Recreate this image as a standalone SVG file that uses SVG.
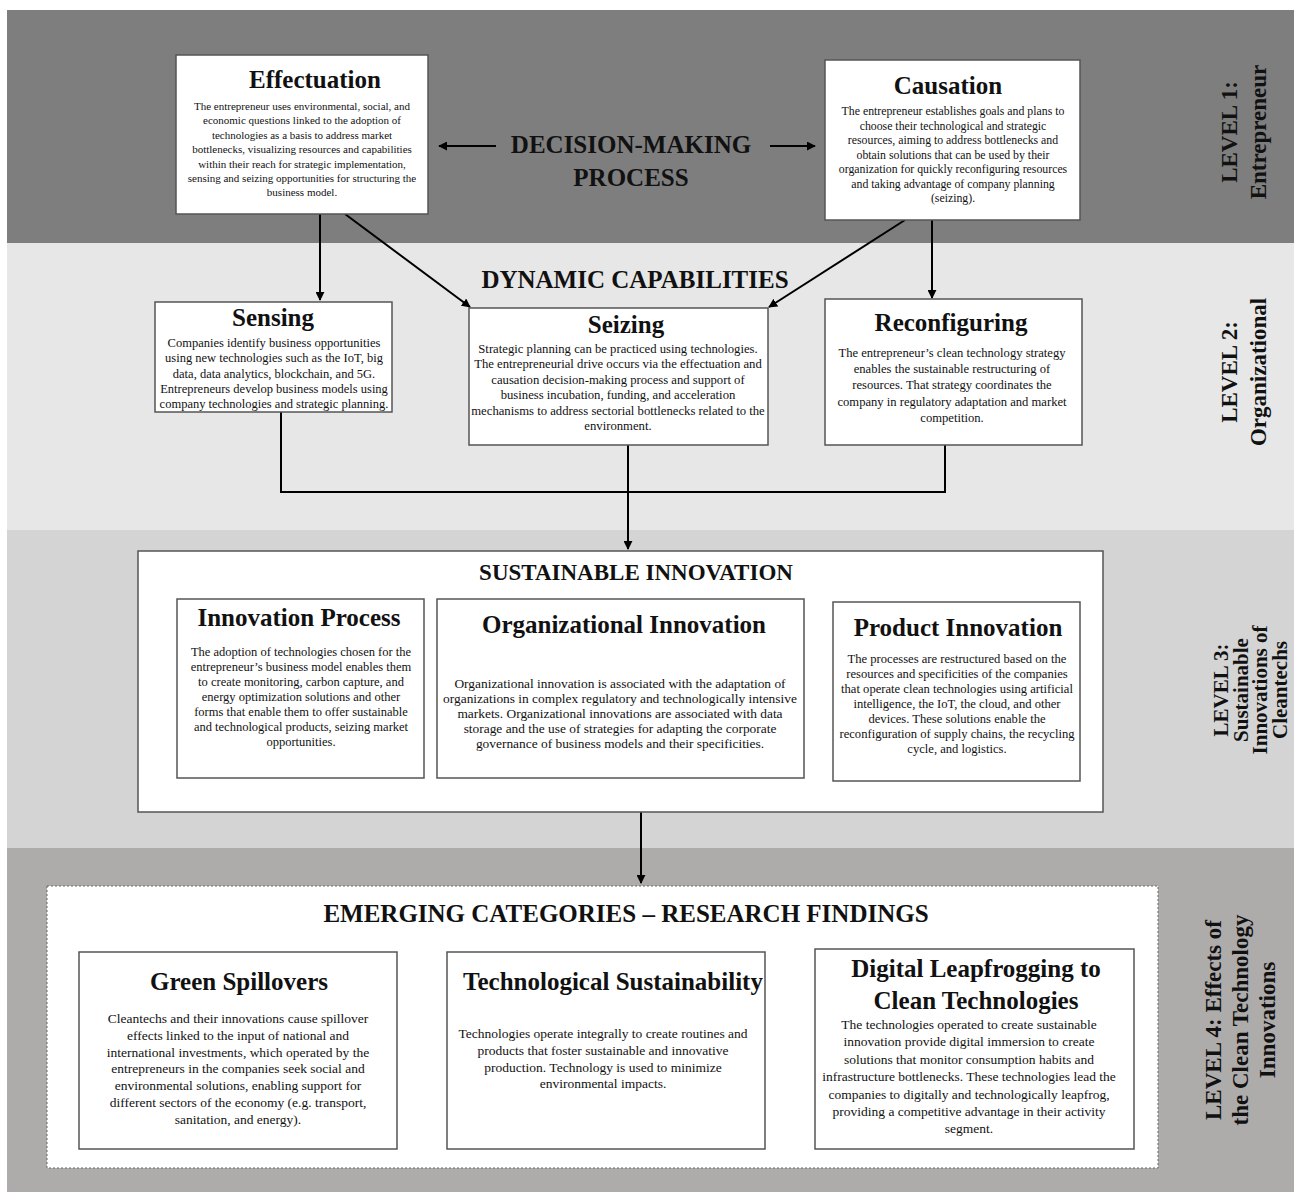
<svg xmlns="http://www.w3.org/2000/svg" width="1294" height="1192" viewBox="0 0 1294 1192">
<defs>
<marker id="ah" viewBox="0 0 10 10" refX="9" refY="5" markerWidth="9" markerHeight="9" markerUnits="userSpaceOnUse" orient="auto">
<path d="M0,0 L10,5 L0,10 z" fill="#000"/>
</marker>
<style>
text{font-family:"Liberation Serif","Times New Roman",serif;fill:#111;}
.box{fill:#fff;stroke:#555;stroke-width:1.5;}
.t{font-weight:bold;font-size:25px;text-anchor:middle;}
.h{font-weight:bold;font-size:25px;text-anchor:middle;}
.b{font-size:11px;text-anchor:middle;}
.b12{font-size:12.6px;text-anchor:middle;}
.b125{font-size:12.5px;text-anchor:middle;}
.b135{font-size:13.5px;text-anchor:middle;}
.lv{font-weight:bold;font-size:23px;text-anchor:middle;}
.c{stroke:#000;stroke-width:2;fill:none;}
</style>
</defs>

<g id="bands">
<rect x="7" y="10" width="1287" height="233" fill="#7e7e7e"/>
<rect x="7" y="243" width="1287" height="287" fill="#e7e7e7"/>
<rect x="7" y="530" width="1287" height="318" fill="#d4d4d4"/>
<rect x="7" y="848" width="1287" height="344" fill="#aeabab"/>
</g>

<g id="level-labels">
<text class="lv" transform="translate(1237,132) rotate(-90)"><tspan x="0" y="0">LEVEL 1:</tspan><tspan x="0" dy="29">Entrepreneur</tspan></text>
<text class="lv" transform="translate(1237,372) rotate(-90)"><tspan x="0" y="0">LEVEL 2:</tspan><tspan x="0" dy="29">Organizational</tspan></text>
<text class="lv" transform="translate(1228,690) rotate(-90)" style="font-size:21px"><tspan x="0" y="0">LEVEL 3:</tspan><tspan x="0" dy="19.5">Sustainable</tspan><tspan x="0" dy="19.5">Innovations of</tspan><tspan x="0" dy="19.5">Cleantechs</tspan></text>
<text class="lv" transform="translate(1221,1020) rotate(-90)"><tspan x="0" y="0">LEVEL 4: Effects of</tspan><tspan x="0" dy="27">the Clean Technology</tspan><tspan x="0" dy="27">Innovations</tspan></text>
</g>

<g id="headings">
<text class="h" x="631" y="153">DECISION-MAKING</text>
<text class="h" x="631" y="186">PROCESS</text>
<text class="h" x="635" y="288">DYNAMIC CAPABILITIES</text>
</g>

<g id="connectors">
<line class="c" x1="496" y1="146" x2="439" y2="146" marker-end="url(#ah)"/>
<line class="c" x1="770" y1="146" x2="815" y2="146" marker-end="url(#ah)"/>
<line class="c" x1="320" y1="214" x2="320" y2="300" marker-end="url(#ah)"/>
<line class="c" x1="345" y1="214" x2="470" y2="307" marker-end="url(#ah)"/>
<line class="c" x1="932" y1="220" x2="932" y2="298" marker-end="url(#ah)"/>
<line class="c" x1="905" y1="220" x2="769" y2="307" marker-end="url(#ah)"/>
<polyline class="c" points="281,412 281,492 945,492 945,445"/>
<line class="c" x1="628" y1="445" x2="628" y2="549" marker-end="url(#ah)"/>
<line class="c" x1="641" y1="812" x2="641" y2="883" marker-end="url(#ah)"/>
</g>

<g id="effectuation">
<rect class="box" x="176" y="55" width="252" height="159"/>
<text class="t" x="315" y="88">Effectuation</text>
<text class="b" x="302" y="110"><tspan x="302">The entrepreneur uses environmental,  social, and</tspan><tspan x="302" dy="14.4">economic questions linked to the adoption of</tspan><tspan x="302" dy="14.4">technologies as a basis to address market</tspan><tspan x="302" dy="14.4">bottlenecks, visualizing resources and capabilities</tspan><tspan x="302" dy="14.4">within their reach for strategic implementation,</tspan><tspan x="302" dy="14.4">sensing and seizing opportunities for structuring the</tspan><tspan x="302" dy="14.4">business model.</tspan></text>
</g>

<g id="causation">
<rect class="box" x="825" y="60" width="255" height="160"/>
<text class="t" x="948" y="94">Causation</text>
<text class="b" x="953" y="115" style="font-size:11.8px"><tspan x="953">The entrepreneur establishes goals and plans to</tspan><tspan x="953" dy="14.5">choose their technological and strategic</tspan><tspan x="953" dy="14.5">resources, aiming to address bottlenecks and</tspan><tspan x="953" dy="14.5">obtain solutions that can be used by their</tspan><tspan x="953" dy="14.5">organization for quickly reconfiguring resources</tspan><tspan x="953" dy="14.5">and taking advantage of company planning</tspan><tspan x="953" dy="14.5">(seizing).</tspan></text>
</g>

<g id="sensing">
<rect class="box" x="155" y="302" width="237" height="110"/>
<text class="t" x="273" y="326">Sensing</text>
<text class="b125" x="274" y="347"><tspan x="274">Companies identify business opportunities</tspan><tspan x="274" dy="15.3">using new technologies such as the IoT, big</tspan><tspan x="274" dy="15.3">data, data analytics, blockchain, and 5G.</tspan><tspan x="274" dy="15.3">Entrepreneurs develop business models using</tspan><tspan x="274" dy="15.3">company technologies and strategic planning.</tspan></text>
</g>

<g id="seizing">
<rect class="box" x="469" y="308" width="299" height="137"/>
<text class="t" x="626" y="333">Seizing</text>
<text class="b12" x="618" y="353" style="font-size:12.7px"><tspan x="618">Strategic planning can be practiced using technologies.</tspan><tspan x="618" dy="15.4">The entrepreneurial drive occurs via the effectuation and</tspan><tspan x="618" dy="15.4">causation decision-making process and support of</tspan><tspan x="618" dy="15.4">business incubation, funding, and acceleration</tspan><tspan x="618" dy="15.4">mechanisms to address sectorial bottlenecks related to the</tspan><tspan x="618" dy="15.4">environment.</tspan></text>
</g>

<g id="reconfiguring">
<rect class="box" x="825" y="299" width="257" height="146"/>
<text class="t" x="951" y="331">Reconfiguring</text>
<text class="b12" x="952" y="357"><tspan x="952">The entrepreneur’s  clean technology  strategy</tspan><tspan x="952" dy="16.2">enables the sustainable restructuring of</tspan><tspan x="952" dy="16.2">resources. That strategy coordinates the</tspan><tspan x="952" dy="16.2">company in regulatory adaptation and market</tspan><tspan x="952" dy="16.2">competition.</tspan></text>
</g>

<g id="sustainable-innovation">
<rect class="box" x="138" y="551" width="965" height="261"/>
<text class="h" x="636" y="580" style="font-size:23px">SUSTAINABLE INNOVATION</text>
</g>

<g id="innovation-process">
<rect class="box" x="177" y="599" width="247" height="179"/>
<text class="t" x="299" y="626">Innovation Process</text>
<text class="b125" x="301" y="656"><tspan x="301">The adoption of technologies chosen for the</tspan><tspan x="301" dy="15">entrepreneur’s  business model enables them</tspan><tspan x="301" dy="15">to create monitoring,  carbon capture, and</tspan><tspan x="301" dy="15">energy optimization solutions and other</tspan><tspan x="301" dy="15">forms that enable them to offer sustainable</tspan><tspan x="301" dy="15">and technological products, seizing market</tspan><tspan x="301" dy="15">opportunities.</tspan></text>
</g>

<g id="organizational-innovation">
<rect class="box" x="437" y="599" width="367" height="179"/>
<text class="t" x="624" y="633">Organizational Innovation</text>
<text class="b135" x="620" y="688" style="font-size:13.4px"><tspan x="620">Organizational innovation is associated with the adaptation of</tspan><tspan x="620" dy="15">organizations in complex regulatory and technologically intensive</tspan><tspan x="620" dy="15">markets. Organizational innovations are associated with data</tspan><tspan x="620" dy="15">storage and the use of strategies for adapting the corporate</tspan><tspan x="620" dy="15">governance of business models and their specificities.</tspan></text>
</g>

<g id="product-innovation">
<rect class="box" x="833" y="602" width="247" height="179"/>
<text class="t" x="958" y="636">Product Innovation</text>
<text class="b12" x="957" y="663"><tspan x="957">The processes are restructured based on the</tspan><tspan x="957" dy="15">resources and specificities of the companies</tspan><tspan x="957" dy="15">that operate clean technologies using artificial</tspan><tspan x="957" dy="15">intelligence, the IoT, the cloud, and other</tspan><tspan x="957" dy="15">devices. These solutions enable the</tspan><tspan x="957" dy="15">reconfiguration of supply chains, the recycling</tspan><tspan x="957" dy="15">cycle, and logistics.</tspan></text>
</g>

<g id="emerging-categories">
<rect x="47" y="886" width="1111" height="282" fill="#fff" stroke="#666" stroke-width="1" stroke-dasharray="2,2"/>
<text class="h" x="626" y="922">EMERGING CATEGORIES – RESEARCH FINDINGS</text>
</g>

<g id="green-spillovers">
<rect class="box" x="79" y="952" width="318" height="197"/>
<text class="t" x="239" y="990">Green Spillovers</text>
<text class="b135" x="238" y="1023"><tspan x="238">Cleantechs and their innovations cause spillover</tspan><tspan x="238" dy="16.8">effects linked to the input of national and</tspan><tspan x="238" dy="16.8">international investments, which operated by the</tspan><tspan x="238" dy="16.8">entrepreneurs in the companies seek social and</tspan><tspan x="238" dy="16.8">environmental solutions, enabling support for</tspan><tspan x="238" dy="16.8">different sectors of the economy (e.g. transport,</tspan><tspan x="238" dy="16.8">sanitation, and energy).</tspan></text>
</g>

<g id="technological-sustainability">
<rect class="box" x="447" y="952" width="318" height="197"/>
<text class="t" x="613" y="990">Technological Sustainability</text>
<text class="b135" x="603" y="1038"><tspan x="603">Technologies operate integrally to create routines and</tspan><tspan x="603" dy="16.8">products that foster sustainable and innovative</tspan><tspan x="603" dy="16.8">production. Technology is used to minimize</tspan><tspan x="603" dy="16.8">environmental impacts.</tspan></text>
</g>

<g id="digital-leapfrogging">
<rect class="box" x="815" y="949" width="319" height="200"/>
<text class="t" x="976" y="977"><tspan x="976">Digital Leapfrogging to</tspan><tspan x="976" dy="32">Clean Technologies</tspan></text>
<text class="b135" x="969" y="1029"><tspan x="969">The technologies operated to create sustainable</tspan><tspan x="969" dy="17.4">innovation provide digital immersion to create</tspan><tspan x="969" dy="17.4">solutions that monitor consumption habits and</tspan><tspan x="969" dy="17.4">infrastructure bottlenecks. These technologies lead the</tspan><tspan x="969" dy="17.4">companies to digitally and technologically leapfrog,</tspan><tspan x="969" dy="17.4">providing a competitive advantage in their activity</tspan><tspan x="969" dy="17.4">segment.</tspan></text>
</g>
</svg>
